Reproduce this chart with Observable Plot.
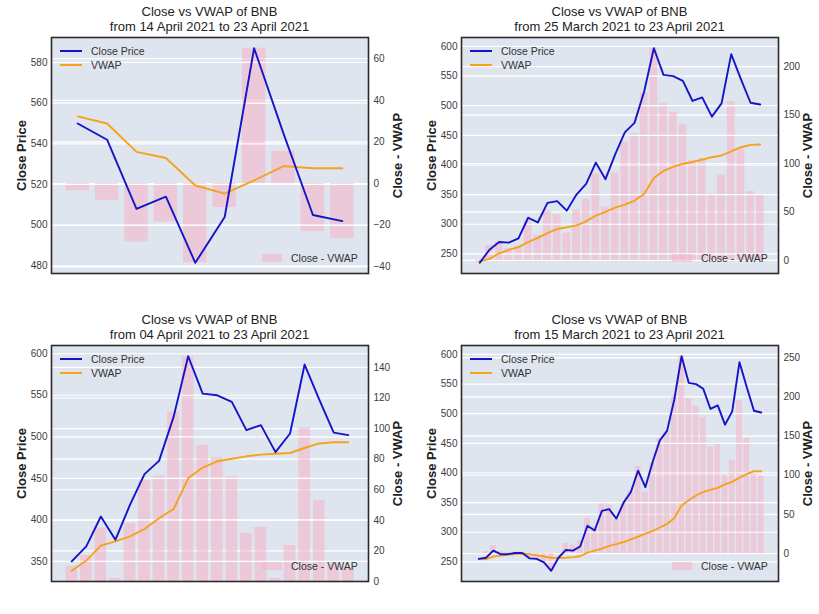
<!DOCTYPE html>
<html><head><meta charset="utf-8">
<script src="https://cdn.jsdelivr.net/npm/d3@7"></script>
<script src="https://cdn.jsdelivr.net/npm/@observablehq/plot@0.6"></script>
<style>
body{margin:0;background:#fff;font-family:"Liberation Sans",Arial,sans-serif;}
#root{position:relative;width:819px;height:614px;overflow:hidden;}
.panel{position:absolute;width:409px;height:300px;}
.panel svg{position:absolute;left:0;top:0;}
.title{position:absolute;left:31px;width:357px;top:5px;text-align:center;font-size:13px;line-height:14.5px;color:#222;}
.leg{position:absolute;font-size:10.5px;color:#333;line-height:12px;white-space:nowrap;}
.sw{position:absolute;}
g[aria-label="y-axis label"] text{font-weight:bold;font-size:13px;fill:#222;}
</style>
</head><body><div id="root"></div>
<script>
// Close price of BNB, 15 March 2021 .. 23 April 2021 (40 days)
const closeAll = [255, 257, 269, 263, 263, 265, 265, 256, 255, 249,
  235, 257, 270, 269, 276, 311, 303, 336, 339, 323,
  350, 368, 404, 376, 418, 455, 471, 524, 597, 552,
  550, 542, 508, 514, 481.5, 504, 587, 545, 505, 502];

// VWAP and Close - VWAP per window
const vwap14Apr = [553.5, 550, 536, 533, 519.5, 515.5, 522, 529, 528, 528];
const diff14Apr = [-3.5, -8, -28, -18.5, -38, -11.5, 65, 15.5, -23, -26.5];

const vwap25Mar = [237.5, 241.6, 251, 256.8, 261.3, 269.7, 277, 285, 292, 295,
  298, 305, 314.6, 321, 328, 333, 340, 351, 378, 390,
  397, 402, 405, 409, 413, 416, 423, 430, 434, 434.5];
const diff25Mar = [-2.5, 15.4, 19, 12.2, 14.7, 41.3, 26, 51, 47, 28,
  52, 63, 89.4, 55, 90, 122, 131, 173, 219, 162,
  153, 140, 103, 105, 68.5, 88, 164, 115, 71, 67.5];

const vwap04Apr = [338.7, 351, 369, 374, 380, 389, 402, 413, 450, 463,
  470.5, 473.5, 476.5, 478.5, 479.5, 480.5, 486.5, 492, 493.5, 493.5];
const diff04Apr = [10, 17, 35, 2, 38, 66, 69, 111, 147, 89,
  81, 68.5, 31.5, 35.5, 2, 23.5, 100.5, 53, 11.5, 8.5];

const vwap15Mar = [255.5, 254.5, 259, 260.5, 262, 263, 264, 263, 261, 259,
  257, 256.5, 257, 258, 259.5, 265.7, 269, 272.5, 277, 280,
  283.5, 288, 292.5, 297.5, 302, 308, 314, 324, 345, 354,
  362, 368, 371.5, 375, 381, 385, 392, 398, 403, 403];
const diff15Mar = [-0.5, 2.5, 10, 2.5, 1, 2, 1, -7, -6, -10,
  -22, 0.5, 13, 11, 16.5, 45, 34, 63.5, 62, 43,
  66.5, 80, 111.5, 78.5, 116, 147, 157, 200, 252, 198,
  188, 174, 136.5, 139, 100.5, 119, 195, 147, 102, 99];

const startLabels = ["14 April 2021", "25 March 2021", "04 April 2021", "15 March 2021"];
const endLabel = "23 April 2021";
const startIndex = [30, 10, 20, 0];

const leftTicks1 = [480, 500, 520, 540, 560, 580];
const rightTicks1 = [-40, -20, 0, 20, 40, 60];
const leftTicks2 = [250, 300, 350, 400, 450, 500, 550, 600];
const rightTicks2 = [0, 50, 100, 150, 200];
const leftTicks3 = [350, 400, 450, 500, 550, 600];
const rightTicks3 = [0, 20, 40, 60, 80, 100, 120, 140];
const leftTicks4 = [250, 300, 350, 400, 450, 500, 550, 600];
const rightTicks4 = [0, 50, 100, 150, 200, 250];

const panels = [
  {vwap: vwap14Apr, diff: diff14Apr, lt: leftTicks1, rt: rightTicks1},
  {vwap: vwap25Mar, diff: diff25Mar, lt: leftTicks2, rt: rightTicks2},
  {vwap: vwap04Apr, diff: diff04Apr, lt: leftTicks3, rt: rightTicks3},
  {vwap: vwap15Mar, diff: diff15Mar, lt: leftTicks4, rt: rightTicks4}
];
const pos = [[0, 0], [410, 0], [0, 308], [410, 308]];

const W = 409, H = 300, ML = 51, MR = 41, MT = 37, MB = 27;
const BG = "#dfe5ef";
const BLUE = "#1414c8", ORANGE = "#f6a21a", PINK = "#f4b3c4";
const root = document.getElementById("root");

panels.forEach((p, k) => {
  const s = startIndex[k];
  const n = p.vwap.length;
  const rows = p.vwap.map((v, i) => ({i, close: closeAll[s + i], vwap: v, diff: p.diff[i]}));
  const pad = 0.4 + 0.05 * (n - 0.2);
  const xDomain = [-pad, n - 1 + pad];
  const vals = rows.flatMap(d => [d.close, d.vwap]);
  const lo = d3.min(vals), hi = d3.max(vals), m = 0.05 * (hi - lo);
  const yLeft = [lo - m, hi + m];
  const dlo = Math.min(0, d3.min(p.diff)), dhi = Math.max(0, d3.max(p.diff)), dm = 0.05 * (dhi - dlo);
  const yRight = [dlo < 0 ? dlo - dm : 0, dhi + dm];

  const div = document.createElement("div");
  div.className = "panel";
  div.style.left = pos[k][0] + "px";
  div.style.top = pos[k][1] + "px";
  root.appendChild(div);

  const common = {width: W, height: H, marginLeft: ML, marginRight: MR, marginTop: MT, marginBottom: MB,
    style: {background: "transparent", fontFamily: '"Liberation Sans", Arial, sans-serif', fontSize: "10px", color: "#3c3c3c", overflow: "visible"}};

  const bars = Plot.plot({
    ...common,
    x: {domain: xDomain, axis: null},
    y: {domain: yRight, axis: null},
    marks: [
      Plot.frame({fill: BG, stroke: null}),
      Plot.gridY(p.rt, {stroke: "white", strokeOpacity: 1, strokeWidth: 1.2}),
      Plot.rectY(rows, {x1: d => d.i - 0.4, x2: d => d.i + 0.4, y1: 0, y2: "diff", fill: PINK, fillOpacity: 0.55}),
      Plot.axisY({anchor: "right", ticks: p.rt, tickSize: 0, tickPadding: 5, label: "Close - VWAP",
        labelAnchor: "center", labelOffset: 33, labelArrow: "none"})
    ]
  });
  const lines = Plot.plot({
    ...common,
    x: {domain: xDomain, axis: null},
    y: {domain: yLeft, axis: null},
    marks: [
      Plot.gridY(p.lt, {stroke: "white", strokeOpacity: 1, strokeWidth: 1.2}),
      Plot.lineY(rows, {x: "i", y: "vwap", stroke: ORANGE, strokeWidth: 1.9}),
      Plot.lineY(rows, {x: "i", y: "close", stroke: BLUE, strokeWidth: 1.9}),
      Plot.axisY({anchor: "left", ticks: p.lt, tickSize: 0, tickPadding: 4, label: "Close Price",
        labelAnchor: "center", labelOffset: 35, labelArrow: "none"}),
      Plot.frame({stroke: "#2b2b2b", strokeWidth: 1.6})
    ]
  });
  div.appendChild(bars);
  div.appendChild(lines);

  const t = document.createElement("div");
  t.className = "title";
  t.innerHTML = "Close vs VWAP of BNB<br>from " + startLabels[k] + " to " + endLabel;
  div.appendChild(t);

  const addLeg = (txt, x, y) => { const e = document.createElement("div"); e.className = "leg"; e.style.left = x + "px"; e.style.top = y + "px"; e.textContent = txt; div.appendChild(e); };
  const addSw = (x, y, w, h, c, op) => { const e = document.createElement("div"); e.className = "sw"; Object.assign(e.style, {left: x + "px", top: y + "px", width: w + "px", height: h + "px", background: c, opacity: op}); div.appendChild(e); };
  addSw(60, 50, 22, 2, BLUE, 1);
  addLeg("Close Price", 91, 45);
  addSw(60, 64, 22, 2, ORANGE, 1);
  addLeg("VWAP", 91, 59);
  addSw(262, 254, 20, 8, PINK, 0.55);
  addLeg("Close - VWAP", 291, 252);
});
</script></body></html>
